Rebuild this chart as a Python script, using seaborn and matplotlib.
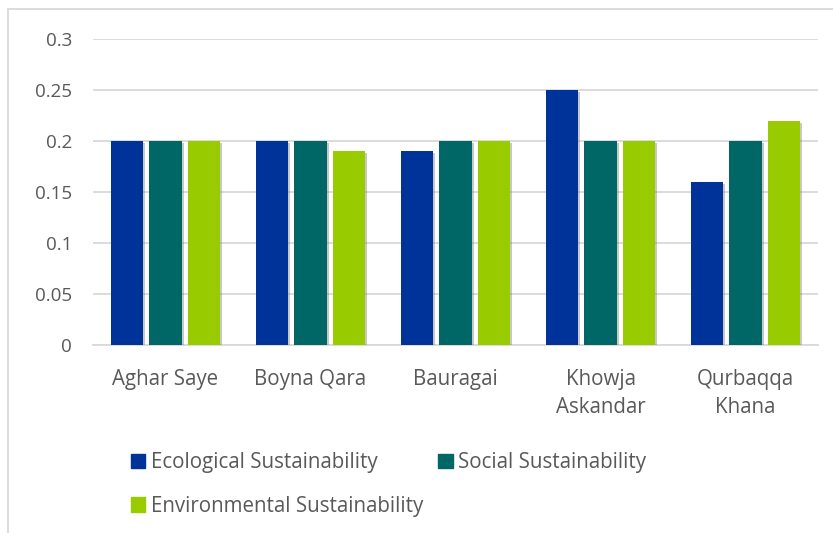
import numpy as np
import pandas as pd
import seaborn as sns
import matplotlib.pyplot as plt
import matplotlib.patches as mpatches
import matplotlib.patheffects as pe

villages = ['Aghar Saye', 'Boyna Qara', 'Bauragai', 'Khowja\nAskandar', 'Qurbaqqa\nKhana']
series = ['Ecological Sustainability', 'Social Sustainability', 'Environmental Sustainability']
ecological = [0.20, 0.20, 0.19, 0.25, 0.16]
social = [0.20, 0.20, 0.20, 0.20, 0.20]
environmental = [0.20, 0.19, 0.20, 0.20, 0.22]
colors = ['#003399', '#006666', '#99CC00']

df = pd.DataFrame({
    'village': villages * 3,
    'series': np.repeat(series, len(villages)),
    'value': ecological + social + environmental,
})

sns.set_style('white')
plt.rcParams['font.family'] = ['Open Sans', 'DejaVu Sans']
text_col = '#595959'
grid_col = '#d9d9d9'
fs = 14.8

fig = plt.figure(figsize=(8.33, 5.33), dpi=100)
ax = fig.add_axes([93 / 833, 1 - 345 / 533, (818 - 93) / 833, (345 - 39) / 533])

sns.barplot(data=df, x='village', y='value', hue='series', palette=colors, saturation=1,
            width=0.79, gap=0.16, linewidth=0, ax=ax, legend=False, zorder=3)

# soft shadow like the office chart
for bar in ax.patches:
    bar.set_path_effects([pe.SimplePatchShadow(offset=(1.5, -1.5), shadow_rgbFace='#777777', alpha=0.4),
                          pe.Normal()])

ax.set_ylim(0, 0.3)
ax.set_xlim(-0.5, len(villages) - 0.5)
ax.set_yticks(np.arange(0, 0.31, 0.05))
ax.set_yticklabels(['0', '0.05', '0.1', '0.15', '0.2', '0.25', '0.3'])
ax.yaxis.grid(True, color=grid_col, linewidth=1.3, zorder=0)
ax.set_axisbelow(True)
for s in ['top', 'right', 'left']:
    ax.spines[s].set_visible(False)
ax.spines['bottom'].set_color(grid_col)
ax.spines['bottom'].set_linewidth(1.3)
ax.tick_params(axis='both', length=0, colors=text_col)
ax.tick_params(axis='x', pad=17, labelsize=fs)
ax.tick_params(axis='y', pad=15, labelsize=13.5)
for lab in ax.get_xticklabels():
    lab.set_linespacing(1.45)
ax.set_xlabel('')
ax.set_ylabel('')

# column-major fill: Eco, Social on row 1, Env on row 2
handles = [mpatches.Patch(color=c, label=l) for c, l in zip(colors, series)]
order = [0, 2, 1]
fig.legend(handles=[handles[i] for i in order], ncol=2, loc='upper left',
           bbox_to_anchor=(131 / 833, 1 - 452 / 533),
           frameon=False, fontsize=fs, labelcolor=text_col, handlelength=0.7, handleheight=0.7,
           handletextpad=0.25, columnspacing=0.75, labelspacing=1.1, borderaxespad=0, borderpad=0)

# chart area border
fig.patches.append(mpatches.Rectangle((8 / 833, -0.05), 1.2, 1 - 9 / 533 + 0.05,
                                      transform=fig.transFigure, fill=False,
                                      edgecolor=grid_col, linewidth=1.3))

fig.savefig('out.png', dpi=100)
